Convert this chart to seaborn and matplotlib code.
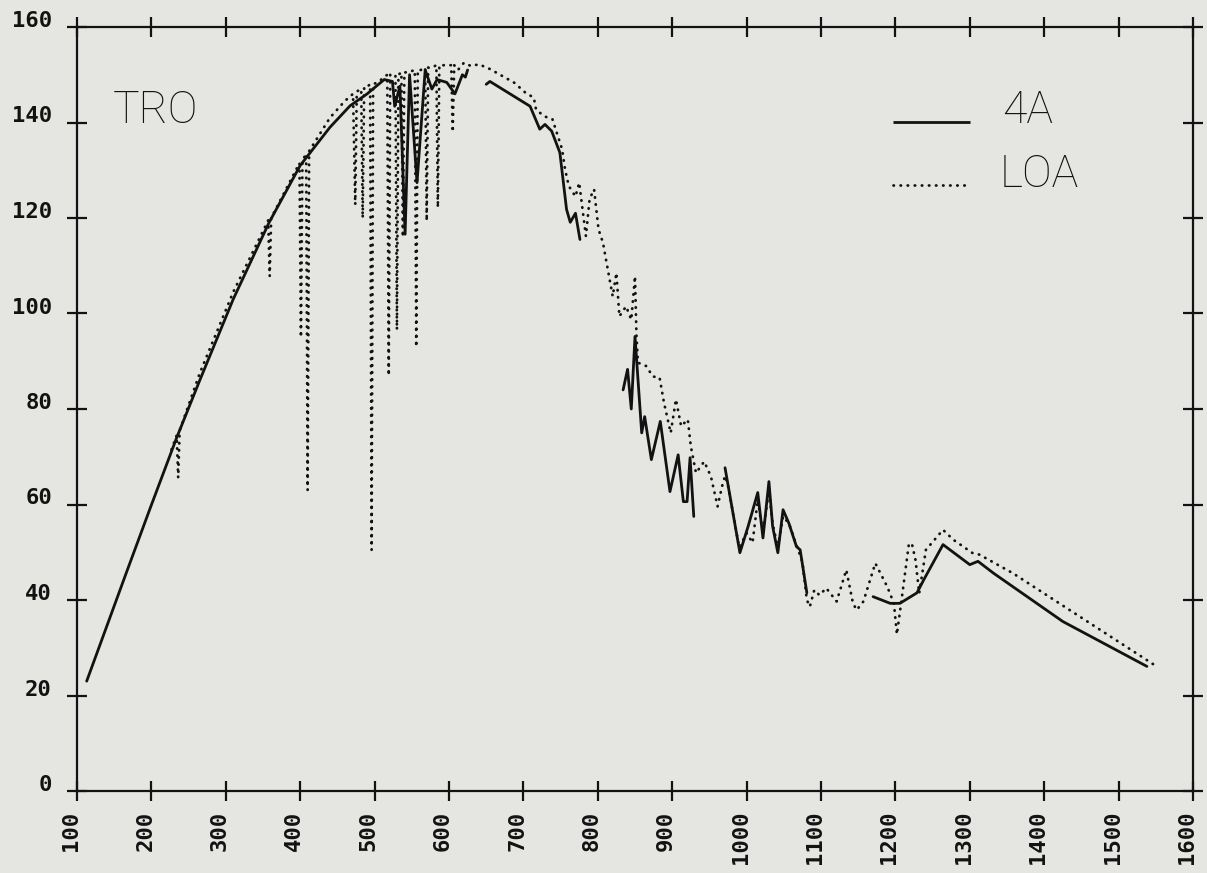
import numpy as np
import pandas as pd
import matplotlib
matplotlib.use("Agg")
import matplotlib.pyplot as plt
from matplotlib.lines import Line2D
import seaborn as sns

nan = np.nan

# Spectral irradiance, model "4A" (solid); NaN marks a break in the trace
wl_4a = [113, 167, 199, 234, 265, 310, 358, 400, 440, 467, 490, 513, 524, 527,
         534, 541, 547, 557, 568, 577, 584, 597, 608, 618, 622, 625, nan,
         650, 655, 709, 722, 729, 738, 749, 758, 763, 770, 776, nan,
         834, 840, 845, 850, 859, 863, 872, 884, 897, 908, 915, 920, 924, 929, nan,
         971, 991, 1002, 1015, 1022, 1030, 1035, 1042, 1049, 1057, 1067, 1072, 1081, nan,
         1170, 1193, 1206, 1229, 1238, 1264, 1300, 1311, 1332, 1425, 1538]
val_4a = [23, 46, 59.5, 74, 86, 103, 119, 131, 139, 143.5, 146, 149, 148.6, 143.4,
          147.6, 116.6, 150, 127.4, 151, 147, 149, 148.4, 146, 150, 149.5, 151, nan,
          148, 148.6, 143.4, 138.6, 139.6, 138.2, 133.7, 121.8, 119.1, 121, 115.5, nan,
          84, 88.3, 80, 95.2, 75, 78.4, 69.4, 77.4, 62.7, 70.4, 60.6, 60.6, 69.8, 57.5, nan,
          67.7, 49.9, 55.4, 62.5, 53, 64.8, 55.4, 49.9, 58.9, 56, 51.2, 50.5, 41.5, nan,
          40.7, 39.3, 39.3, 41.5, 44.2, 51.6, 47.4, 48.1, 45.6, 35.5, 26.1]

# Spectral irradiance, model "LOA" (dotted)
wl_loa = [227, 234, 236, 238, 265, 310, 357, 359, 361, 399, 401, 403, 408, 410, 412,
          440, 460, 471, 474, 476, 482, 484, 486, 490, 494, 496, 498, 505, 517, 519,
          521, 528, 530, 532, 536, 538, 540, 545, 554, 556, 558, 562, 568, 570, 572,
          577, 583, 585, 587, 592, 603, 605, 607, 612, 620, 630, 640, 655, 672, 688,
          703, 714, 717, 728, 739, 752, 756, 761, 770, 775, 784, 789, 795, 801, 807,
          811, 820, 825, 829, 838, 845, 850, 852, 854, 865, 874, 883, 889, 898, 905,
          912, 921, 925, 932, 943, 952, 961, 967, 971, 975, 990, 1000, 1008, 1015, 1022,
          1030, 1035, 1042, 1049, 1057, 1067, 1075, 1081, 1085, 1091, 1098, 1107, 1121,
          1134, 1143, 1148, 1157, 1173, 1189, 1198, 1202, 1208, 1218, 1222, 1227, 1232,
          1241, 1264, 1278, 1304, 1313, 1358, 1551]
val_loa = [71.5, 74.5, 65.6, 75.5, 87.5, 104.5, 119.5, 107.8, 120, 131.5, 95, 132, 133.5, 63, 134,
           141, 144.5, 146, 122.8, 146.5, 147, 120, 147.5, 147.5, 148, 50.5, 148, 148.5, 150, 87,
           150, 150, 96.6, 150, 150.5, 116, 150.5, 150.5, 151, 93, 151, 151, 151.5, 119.4, 151.5,
           151.5, 152, 122.2, 152, 152, 152, 138, 152, 151, 152.5, 151.8, 152.2, 151.2, 149.7, 148.3,
           146.2, 145.2, 142.7, 141.3, 140.7, 134.4, 130.2, 126.7, 124.5, 127.4, 116.2, 124, 126, 117.6, 114.8,
           111.3, 103.6, 108.5, 99.4, 101.5, 98.7, 107.8, 95.2, 89.7, 89, 86.8, 86.6, 81.3, 75, 82,
           76.4, 77.8, 72.2, 66.6, 69, 65.9, 59.6, 63.8, 66, 64, 51, 54, 52, 61, 54,
           63, 56, 51, 57.5, 56, 51.5, 48, 40, 38.6, 42.1, 41, 42.5, 39.7,
           46.3, 39.3, 37.9, 39.7, 47.7, 42.8, 39.3, 32.8, 39.7, 51.6, 51.9, 48.4, 41.4,
           50.5, 54.7, 52.6, 49.8, 49.5, 45.6, 26.1]

x_ticks = list(range(100, 1700, 100))
y_ticks = list(range(0, 180, 20))
series_names = ["4A", "LOA"]
panel_title = "TRO"


def to_frame(wl, val, name):
    d = pd.DataFrame({"wl": wl, "val": val})
    d["seg"] = d["wl"].isna().cumsum()
    d = d.dropna()
    d["series"] = name
    d["seg"] = name + "_" + d["seg"].astype(str)
    return d


df = pd.concat([to_frame(wl_4a, val_4a, series_names[0]),
                to_frame(wl_loa, val_loa, series_names[1])], ignore_index=True)

paper = "#e5e5e2"
ink = "#121212"

sns.set_theme(style="white")
plt.rcParams["font.family"] = ["DejaVu Sans"]

fig = plt.figure(figsize=(12.07, 8.73), dpi=100, facecolor=paper)
ax = fig.add_axes([77 / 1207, 1 - 791 / 873, 1116 / 1207, 764 / 873])
ax.set_facecolor(paper)

dot_pattern = (0.15, 2.4)
sns.lineplot(data=df, x="wl", y="val", hue="series", style="series",
             units="seg", estimator=None, sort=False,
             palette={series_names[0]: ink, series_names[1]: ink},
             dashes={series_names[0]: "", series_names[1]: dot_pattern},
             linewidth=2.0, legend=False, ax=ax,
             dash_capstyle="round", solid_capstyle="round")

ax.set_xlim(100, 1600)
ax.set_ylim(0, 160)
ax.set_xlabel("")
ax.set_ylabel("")
ax.set_xticks(x_ticks)
ax.set_yticks(y_ticks)

tick_font = dict(family="DejaVu Sans Mono", weight="bold", size=16)
ax.set_xticklabels([str(t) for t in x_ticks], fontdict=tick_font,
                   rotation=90, rotation_mode="anchor", ha="right", va="baseline")
ax.set_yticklabels([str(t) for t in y_ticks], fontdict=tick_font, va="baseline")

ax.tick_params(axis="both", direction="inout", length=14, width=1.6,
               color=ink, labelcolor=ink, top=True, right=True,
               bottom=True, left=True)
ax.tick_params(axis="y", pad=11)
ax.tick_params(axis="x", pad=7)
for sp in ax.spines.values():
    sp.set_visible(True)
    sp.set_color(ink)
    sp.set_linewidth(1.6)

label_font = dict(family=["Roboto", "Lato", "Open Sans", "DejaVu Sans"],
                  weight="light", size=32, color=ink)

ax.text(0.0323, 0.8737, panel_title, transform=ax.transAxes,
        ha="left", va="baseline", **label_font)

# legend keys drawn in axes coordinates
ax.add_line(Line2D([0.7312, 0.8002], [0.876, 0.876], transform=ax.transAxes,
                   color=ink, lw=2.0, solid_capstyle="butt"))
ax.add_line(Line2D([0.7312, 0.7985], [0.7932, 0.7932], transform=ax.transAxes,
                   color=ink, lw=2.0, linestyle=(0, dot_pattern),
                   dash_capstyle="round"))
ax.text(0.8289, 0.8743, series_names[0], transform=ax.transAxes,
        ha="left", va="baseline", **label_font)
ax.text(0.8271, 0.7906, series_names[1], transform=ax.transAxes,
        ha="left", va="baseline", **label_font)

fig.savefig("out.png", dpi=100, facecolor=paper)
